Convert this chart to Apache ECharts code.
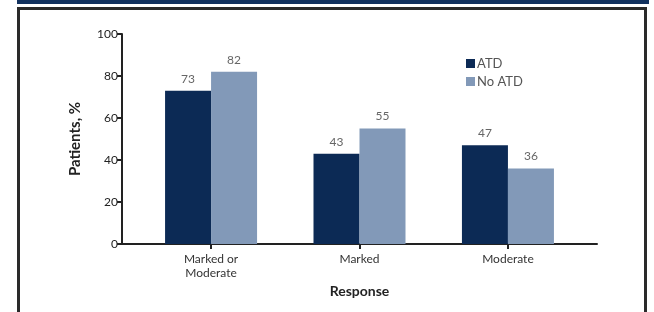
<!DOCTYPE html>
<html>
<head>
<meta charset="utf-8">
<script src="https://cdn.jsdelivr.net/npm/echarts@6/dist/echarts.min.js"></script>
<style>
  html, body { margin: 0; padding: 0; background: #fff; }
  #main { width: 654px; height: 312px; }
</style>
</head>
<body>
<div id="main"></div>
<script>
// 数据
var categories = ['Marked or\nModerate', 'Marked', 'Moderate'];
var atdValues = [73, 43, 47];
var noAtdValues = [82, 55, 36];
var yTicks = [0, 20, 40, 60, 80, 100];

(function () {
  var myChart = echarts.init(document.getElementById('main'))
  var font = 'Lato, "Open Sans", sans-serif'
  // 类别放在数值轴上 1,2,3，两端留白不等于类别间距
  var pos = categories.map(function (c, i) { return i + 1 })
  function pairs(arr) {
    return arr.map(function (v, i) { return [pos[i], v] })
  }
  var option = {
    animation: false,
    textStyle: { fontFamily: font },
    graphic: [
      // 顶部深蓝条
      { type: 'rect', shape: { x: 17, y: 0, width: 632, height: 4 }, style: { fill: '#12325f' } },
      // 外框
      { type: 'rect', shape: { x: 18.5, y: 8.5, width: 627, height: 320 }, style: { fill: 'none', stroke: '#2a2a2a', lineWidth: 3 } }
    ],
    legend: {
      orient: 'vertical',
      left: 461,
      top: 52,
      itemWidth: 9,
      itemHeight: 9,
      itemGap: 5,
      icon: 'rect',
      textStyle: { color: '#555', fontSize: 13, fontFamily: font, padding: [0, 0, 0, -3] },
      data: ['ATD', 'No ATD']
    },
    grid: { left: 122, right: 57, top: 34, bottom: 68 },
    xAxis: {
      type: 'value',
      min: 0.4,
      max: 3.6,
      splitLine: { show: false },
      axisLine: { show: true, lineStyle: { color: '#222', width: 2 } },
      axisTick: { show: true, customValues: pos, length: 5, inside: false, lineStyle: { color: '#222', width: 2 } },
      axisLabel: {
        customValues: pos,
        color: '#333',
        fontSize: 12,
        lineHeight: 14,
        margin: 8,
        formatter: function (v) { return categories[Math.round(v) - 1] || '' }
      },
      name: 'Response',
      nameLocation: 'middle',
      nameGap: 36,
      nameTextStyle: { color: '#222', fontSize: 14, fontWeight: 'bold' }
    },
    yAxis: {
      type: 'value',
      min: 0,
      max: 100,
      interval: 20,
      splitLine: { show: false },
      axisLine: { show: true, lineStyle: { color: '#222', width: 2 } },
      axisTick: { show: true, length: 5, lineStyle: { color: '#222', width: 2 } },
      axisLabel: {
        color: '#222',
        fontSize: 12,
        margin: 4,
        formatter: function (v) { return yTicks.indexOf(v) > -1 ? v : '' }
      },
      name: 'Patients, %',
      nameLocation: 'middle',
      nameGap: 39,
      nameTextStyle: { color: '#222', fontSize: 15, fontWeight: 'bold' }
    },
    series: [{
        name: 'ATD',
        type: 'bar',
        data: pairs(atdValues),
        barWidth: 46,
        barGap: '0%',
        itemStyle: { color: '#0c2a55' },
        label: { show: true, position: 'top', distance: 6, color: '#666', fontSize: 12 }
      },
      {
        name: 'No ATD',
        type: 'bar',
        data: pairs(noAtdValues),
        barWidth: 46,
        barGap: '0%',
        itemStyle: { color: '#8299b8' },
        label: { show: true, position: 'top', distance: 6, color: '#666', fontSize: 12 }
      }
    ]
  }
  myChart.setOption(option)
})()
</script>
</body>
</html>
